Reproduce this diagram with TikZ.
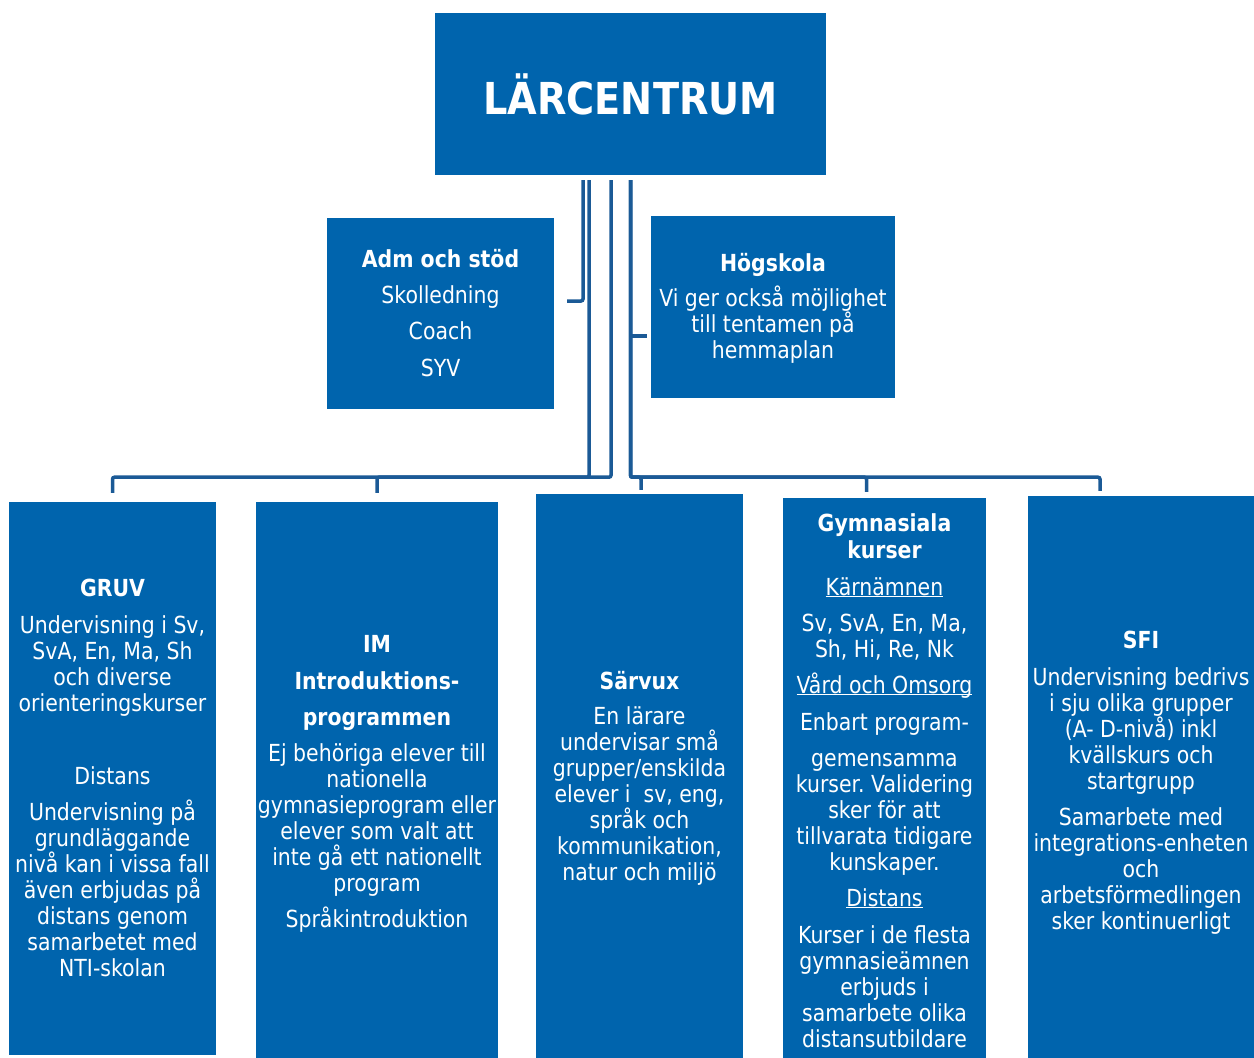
\documentclass[tikz,border=0pt]{standalone}
\usepackage{fontspec}
\setmainfont{DejaVu Sans}[FakeStretch=0.87]
\frenchspacing
\newsavebox\myulbox
\newcommand\myul[1]{\sbox\myulbox{#1}\rlap{\rule[-2.2pt]{\wd\myulbox}{1.3pt}}\usebox\myulbox}
\definecolor{boxblue}{HTML}{0064AD}
\definecolor{linecol}{HTML}{1B5A96}
\tikzset{
  box/.style={fill=boxblue, draw=none, inner sep=0pt, text=white},
  txt/.style={anchor=base, inner sep=0pt, text=white, font=\fontsize{23.5}{26}\selectfont},
  hd/.style={txt, font=\fontsize{23.5}{26}\selectfont\bfseries},
  conn/.style={draw=linecol, line width=3.5pt, rounded corners=2pt},
}
\newcommand\tl[5][txt]{\node[#1] (#2) at (#3,#4) {#5};}
\begin{document}
\begin{tikzpicture}[x=1pt,y=-1pt]
\useasboundingbox (0,0) rectangle (1254,1058);
% boxes
\node[box, minimum width=391, minimum height=162, font=\fontsize{44}{44}\selectfont\bfseries] (top) at (630.5,94) {LÄRCENTRUM};
\node[box, minimum width=227, minimum height=191] (adm) at (440.5,313.5) {};
\node[box, minimum width=244, minimum height=182] (hog) at (773,307) {};
\node[box, minimum width=207, minimum height=553] (gruv) at (112.5,778.5) {};
\node[box, minimum width=242, minimum height=556] (im) at (377,780) {};
\node[box, minimum width=207, minimum height=564] (sar) at (639.5,776) {};
\node[box, minimum width=203, minimum height=560] (gym) at (884.5,778) {};
\node[box, minimum width=226, minimum height=562] (sfi) at (1141,777) {};

% connectors
\coordinate (admc) at (567,301);
\draw[conn] ([xshift=-47.5pt,yshift=-5pt]top.south) |- (admc);
\coordinate (hogj) at (630,336);
\draw[conn, rounded corners=0pt, shorten >=4pt] (hogj) -- (hogj -| hog.west);
\draw[conn] ([xshift=-41.5pt,yshift=-5pt]top.south) -- ++(0,297) -| ([yshift=9pt]gruv.north);
\draw[conn] ([xshift=-19.5pt,yshift=-5pt]top.south) -- ++(0,297) -| ([yshift=9pt]im.north);
\draw[conn] ([yshift=-5pt]top.south) -- ++(0,297) -| ([xshift=1.5pt,yshift=4pt]sar.north);
\draw[conn] ([yshift=-5pt]top.south) -- ++(0,297) -| ([xshift=-18pt,yshift=6pt]gym.north);
\draw[conn] ([yshift=-5pt]top.south) -- ++(0,297) -| ([xshift=-41pt,yshift=5pt]sfi.north);

% Adm
\tl[hd]{a0}{440.5}{267}{Adm och stöd}
\tl{a1}{440.5}{303}{Skolledning}
\tl{a2}{440.5}{339}{Coach}
\tl{a3}{440.5}{376}{SYV}
% Hogskola
\tl[hd]{h0}{773}{271}{Högskola}
\tl{h1}{773}{306}{Vi ger också möjlighet}
\tl{h2}{773}{332}{till tentamen på}
\tl{h3}{773}{358}{hemmaplan}
% GRUV
\tl[hd]{g0}{112.5}{596}{GRUV}
\tl{g1}{112.5}{633}{Undervisning i Sv,}
\tl{g2}{112.5}{659}{SvA, En, Ma, Sh}
\tl{g3}{112.5}{685}{och diverse}
\tl{g4}{112.5}{711}{orienteringskurser}
\tl{g5}{112.5}{784}{Distans}
\tl{g6}{112.5}{820}{Undervisning på}
\tl{g7}{112.5}{846}{grundläggande}
\tl{g8}{112.5}{872}{nivå kan i vissa fall}
\tl{g9}{112.5}{898}{även erbjudas på}
\tl{g10}{112.5}{924}{distans genom}
\tl{g11}{112.5}{950}{samarbetet med}
\tl{g12}{112.5}{976}{NTI-skolan}
% IM
\tl[hd]{i0}{377}{652}{IM}
\tl[hd]{i1}{377}{689}{Introduktions-}
\tl[hd]{i2}{377}{725}{programmen}
\tl{i3}{377}{761}{Ej behöriga elever till}
\tl{i4}{377}{787}{nationella}
\tl{i5}{377}{813}{gymnasieprogram eller}
\tl{i6}{377}{839}{elever som valt att}
\tl{i7}{377}{865}{inte gå ett nationellt}
\tl{i8}{377}{891}{program}
\tl{i9}{377}{927}{Språkintroduktion}
% Sarvux
\tl[hd]{s0}{639.5}{689}{Särvux}
\tl{s1}{639.5}{724}{En lärare}
\tl{s2}{639.5}{750}{undervisar små}
\tl{s3}{639.5}{776}{grupper/enskilda}
\tl{s4}{639.5}{802}{elever i\ \ sv, eng,}
\tl{s5}{639.5}{828}{språk och}
\tl{s6}{639.5}{854}{kommunikation,}
\tl{s7}{639.5}{880}{natur och miljö}
% Gymnasiala
\tl[hd]{k0}{884.5}{531}{Gymnasiala}
\tl[hd]{k1}{884.5}{558}{kurser}
\tl{k2}{884.5}{595}{\myul{Kärnämnen}}
\tl{k3}{884.5}{631}{Sv, SvA, En, Ma,}
\tl{k4}{884.5}{657}{Sh, Hi, Re, Nk}
\tl{k5}{884.5}{693}{\myul{Vård och Omsorg}}
\tl{k6}{884.5}{730}{Enbart program-}
\tl{k7}{884.5}{766}{gemensamma}
\tl{k8}{884.5}{792}{kurser. Validering}
\tl{k9}{884.5}{818}{sker för att}
\tl{k10}{884.5}{844}{tillvarata tidigare}
\tl{k11}{884.5}{870}{kunskaper.}
\tl{k12}{884.5}{906}{\myul{Distans}}
\tl{k13}{884.5}{943}{Kurser i de flesta}
\tl{k14}{884.5}{969}{gymnasieämnen}
\tl{k15}{884.5}{995}{erbjuds i}
\tl{k16}{884.5}{1021}{samarbete olika}
\tl{k17}{884.5}{1047}{distansutbildare}
% SFI
\tl[hd]{f0}{1141}{648}{SFI}
\tl{f1}{1141}{685}{Undervisning bedrivs}
\tl{f2}{1141}{711}{i sju olika grupper}
\tl{f3}{1141}{737}{(A- D-nivå) inkl}
\tl{f4}{1141}{763}{kvällskurs och}
\tl{f5}{1141}{789}{startgrupp}
\tl{f6}{1141}{825}{Samarbete med}
\tl{f7}{1141}{851}{integrations-enheten}
\tl{f8}{1141}{877}{och}
\tl{f9}{1141}{903}{arbetsförmedlingen}
\tl{f10}{1141}{929}{sker kontinuerligt}
\end{tikzpicture}
\end{document}
